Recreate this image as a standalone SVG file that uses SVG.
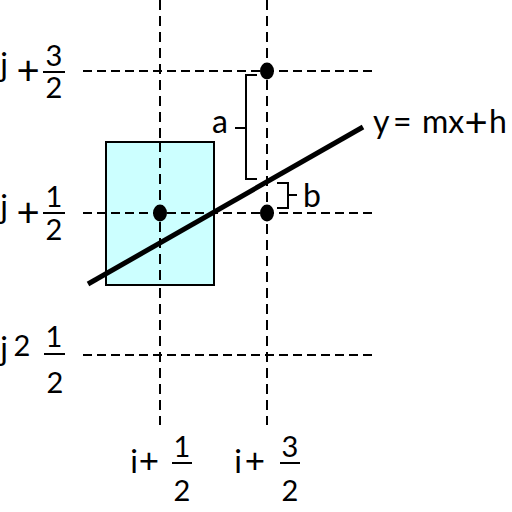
<svg xmlns="http://www.w3.org/2000/svg" width="512" height="512" viewBox="0 0 512 512">
<style>
.dash{stroke:#000;stroke-width:2;stroke-dasharray:10 6;fill:none}
.hdash{stroke:#000;stroke-width:2;stroke-dasharray:9 5;fill:none}
.t{font-family:Lato,"Open Sans",sans-serif;font-size:32px;fill:#000}
.d{font-size:29px}
.p{font-size:40px}
.q{font-size:35px}
.m{text-anchor:middle}
.bar{stroke:#000;stroke-width:2}
.br{stroke:#000;stroke-width:2;fill:none}
</style>
<rect width="512" height="512" fill="#fff"/>
<g id="grid">
<line class="dash" x1="160" y1="0" x2="160" y2="425"/>
<line class="dash" x1="267" y1="0" x2="267" y2="425"/>
</g>
<g id="cell">
<rect x="106" y="142" width="108" height="143" fill="#ccffff" stroke="#000" stroke-width="2"/>
</g>
<g id="hgrid">
<line class="hdash" x1="83" y1="71" x2="375" y2="71"/>
<line class="hdash" x1="83" y1="213" x2="375" y2="213"/>
<line class="hdash" x1="83" y1="355" x2="375" y2="355"/>
<line class="dash" x1="160" y1="142" x2="160" y2="285"/>
</g>
<g id="connectors">
<line x1="88" y1="284" x2="363" y2="127" stroke="#000" stroke-width="5"/>
<path class="br" d="M257,75 H246 V179 H257 M235,128 H246"/>
<path class="br" d="M277,183 H288 V208 H277 M288,195 H297"/>
</g>
<g id="dots">
<ellipse cx="160" cy="213" rx="7" ry="8.5"/>
<ellipse cx="267" cy="71" rx="7" ry="8.5"/>
<ellipse cx="267" cy="213" rx="7" ry="8.5"/>
</g>
<g id="label-row1">
<text class="t m" x="4" y="76">j</text>
<text class="t p m" x="28" y="85">+</text>
<text class="t d m" x="54" y="66">3</text>
<line class="bar" x1="43" y1="72" x2="65" y2="72"/>
<text class="t d m" x="54" y="98">2</text>
</g>
<g id="label-row2">
<text class="t m" x="4" y="218">j</text>
<text class="t p m" x="28" y="227">+</text>
<text class="t d m" x="54" y="207">1</text>
<line class="bar" x1="43" y1="213" x2="65" y2="213"/>
<text class="t d m" x="54" y="240">2</text>
</g>
<g id="label-row3">
<text class="t m" x="4" y="360">j</text>
<text class="t m" x="22" y="356" style="font-size:29px">2</text>
<text class="t d m" x="54" y="347">1</text>
<line class="bar" x1="44" y1="354" x2="65" y2="354"/>
<text class="t d m" x="55" y="393">2</text>
</g>
<g id="label-col1">
<text class="t m" x="134" y="473">i</text>
<text class="t q m" x="149" y="473">+</text>
<text class="t d m" x="182" y="457">1</text>
<line class="bar" x1="172" y1="463" x2="192" y2="463"/>
<text class="t d m" x="182" y="501">2</text>
</g>
<g id="label-col2">
<text class="t m" x="238" y="473">i</text>
<text class="t q m" x="255" y="473">+</text>
<text class="t d m" x="290" y="457">3</text>
<line class="bar" x1="280" y1="463" x2="300" y2="463"/>
<text class="t d m" x="290" y="501">2</text>
</g>
<g id="label-line">
<text class="t" x="373" y="133">y</text>
<text class="t" x="393" y="133">=</text>
<text class="t" x="422" y="133">mx</text>
<text class="t p m" x="476" y="137">+</text>
<text class="t" x="489" y="133">h</text>
</g>
<g id="label-a"><text class="t m" x="220" y="133">a</text></g>
<g id="label-b"><text class="t m" x="312" y="207">b</text></g>
</svg>
